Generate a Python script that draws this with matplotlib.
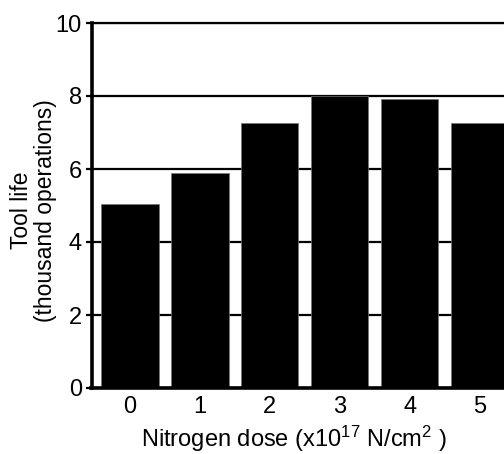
import matplotlib.pyplot as plt

# -----------------------------
# Data
# -----------------------------
doses = [0, 1, 2, 3, 4, 5]
tool_life = [5.05, 5.9, 7.27, 8.0, 7.92, 7.25]
y_ticks = [0, 2, 4, 6, 8, 10]

plt.rcParams['font.family'] = ['Liberation Sans', 'DejaVu Sans']
plt.rcParams['mathtext.default'] = 'regular'

fig = plt.figure(figsize=(5.04, 4.54), dpi=100)
ax = fig.add_axes([91.5 / 504, 66 / 454, 430 / 504, 365 / 454])

ax.bar(doses, tool_life, width=0.82, color='black', edgecolor='#777777',
       linewidth=0.5, zorder=2)

ax.set_xlim(-0.55, 5.6)
ax.set_ylim(0, 10)
ax.set_yticks(y_ticks)
ax.set_xticks(doses)

# horizontal gridlines behind the bars
ax.set_axisbelow(True)
ax.yaxis.grid(True, color='black', linewidth=1.6)

ax.spines['right'].set_visible(False)
ax.spines['left'].set_linewidth(2.6)
ax.spines['bottom'].set_linewidth(2.6)
ax.spines['top'].set_linewidth(1.6)

ax.tick_params(axis='y', direction='out', length=4, width=1.6, pad=3,
               labelsize=17)
ax.tick_params(axis='x', length=0, pad=6, labelsize=17)

ax.set_xlabel('Nitrogen dose (x10$^{17}$ N/cm$^{2}$ )', fontsize=17)
ax.xaxis.set_label_coords(0.47, -0.098)
ax.set_ylabel('Tool life\n(thousand operations)', fontsize=16.5,
              linespacing=1.05)
ax.yaxis.set_label_coords(-0.08, 0.486)

fig.savefig('out.png', dpi=100)
